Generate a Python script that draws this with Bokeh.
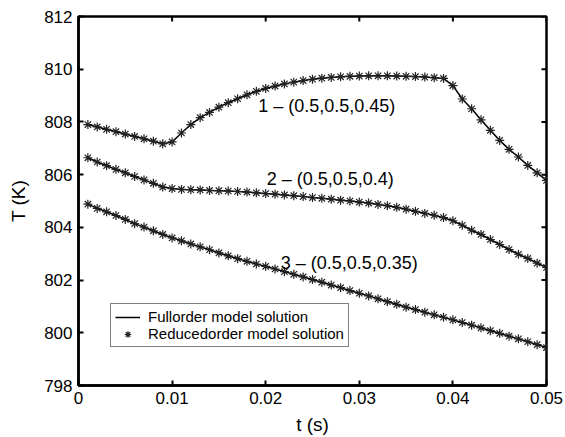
import math
from bokeh.plotting import figure
from bokeh.models import (Range1d, FixedTicker, Legend, LegendItem, Label)
from bokeh.embed import file_html
from bokeh.resources import INLINE

# ---- data ----
t = [0.001, 0.002, 0.003, 0.004, 0.005, 0.006, 0.007, 0.008, 0.009, 0.010,
     0.011, 0.012, 0.013, 0.014, 0.015, 0.016, 0.017, 0.018, 0.019, 0.020,
     0.021, 0.022, 0.023, 0.024, 0.025, 0.026, 0.027, 0.028, 0.029, 0.030,
     0.031, 0.032, 0.033, 0.034, 0.035, 0.036, 0.037, 0.038, 0.039, 0.040,
     0.041, 0.042, 0.043, 0.044, 0.045, 0.046, 0.047, 0.048, 0.049, 0.050]

T1 = [807.90, 807.81, 807.72, 807.63, 807.54, 807.45, 807.36, 807.27, 807.17, 807.24,
      807.58, 807.90, 808.16, 808.36, 808.56, 808.73, 808.88, 809.03, 809.16, 809.27,
      809.36, 809.44, 809.51, 809.57, 809.62, 809.66, 809.69, 809.71, 809.73, 809.74,
      809.75, 809.75, 809.75, 809.74, 809.73, 809.72, 809.70, 809.68, 809.65, 809.38,
      808.87, 808.50, 808.08, 807.68, 807.30, 806.96, 806.67, 806.35, 806.07, 805.78]

T2 = [806.64, 806.48, 806.34, 806.20, 806.07, 805.93, 805.80, 805.67, 805.53, 805.47,
      805.44, 805.43, 805.42, 805.40, 805.39, 805.38, 805.36, 805.34, 805.31, 805.28,
      805.26, 805.23, 805.20, 805.17, 805.13, 805.10, 805.07, 805.03, 805.00, 804.96,
      804.92, 804.87, 804.82, 804.76, 804.69, 804.61, 804.53, 804.46, 804.37, 804.25,
      804.08, 803.89, 803.73, 803.54, 803.35, 803.16, 802.98, 802.82, 802.64, 802.48]

T3 = [804.88, 804.72, 804.59, 804.45, 804.30, 804.14, 804.01, 803.87, 803.73, 803.60,
      803.49, 803.37, 803.26, 803.15, 803.03, 802.92, 802.81, 802.71, 802.61, 802.52,
      802.42, 802.32, 802.22, 802.12, 802.02, 801.92, 801.81, 801.71, 801.60, 801.50,
      801.40, 801.29, 801.18, 801.08, 800.97, 800.88, 800.78, 800.68, 800.59, 800.49,
      800.39, 800.29, 800.19, 800.08, 799.98, 799.87, 799.77, 799.66, 799.55, 799.44]

curve_labels = ["1 \u2013 (0.5,0.5,0.45)", "2 \u2013 (0.5,0.5,0.4)", "3 \u2013 (0.5,0.5,0.35)"]
label_t = [0.0192, 0.0201, 0.0216]
label_T = [808.62, 805.82, 802.65]

x_ticks = [0, 0.01, 0.02, 0.03, 0.04, 0.05]
y_ticks = [798, 800, 802, 804, 806, 808, 810, 812]

FONT = "Liberation Sans"
X0, X1, Y0, Y1 = 0, 0.05, 798, 812

p = figure(width=565, height=437, output_backend="svg", toolbar_location=None,
           x_range=Range1d(X0, X1), y_range=Range1d(Y0, Y1),
           min_border_left=78, min_border_right=19, min_border_top=16, min_border_bottom=51,
           x_axis_label="t (s)", y_axis_label="T (K)")
p.grid.visible = False
p.outline_line_color = "black"
p.outline_line_width = 2.5
p.background_fill_color = "white"
p.border_fill_color = "white"

for ax, ticks in ((p.xaxis[0], x_ticks), (p.yaxis[0], y_ticks)):
    ax.ticker = FixedTicker(ticks=ticks)
    ax.axis_line_width = 2.5
    ax.axis_line_color = "black"
    ax.major_tick_in = 5
    ax.major_tick_out = 0
    ax.major_tick_line_width = 2
    ax.minor_tick_line_color = None
    ax.major_label_text_font = FONT
    ax.major_label_text_color = "black"
    ax.major_label_text_font_size = "17px"
    ax.major_label_standoff = 6
    ax.axis_label_text_font = FONT
    ax.axis_label_text_font_size = "19px"
    ax.axis_label_text_font_style = "normal"
    ax.axis_label_text_color = "black"
p.xaxis[0].major_label_overrides = {0: "0"}
p.xaxis[0].axis_label_standoff = 7
p.yaxis[0].axis_label_standoff = 12

# mirrored inward ticks on top and right edges (clipped to the frame)
p.scatter(x_ticks, [Y1] * len(x_ticks), marker="dash", size=10, angle=math.pi / 2,
          line_color="black", line_width=2)
p.scatter([X1] * len(y_ticks), y_ticks, marker="dash", size=10, angle=0,
          line_color="black", line_width=2)

line_r = None
star_r = None
for T in (T1, T2, T3):
    lr = p.line(t, T, line_color="black", line_width=1.5)
    sr = p.scatter(t, T, marker="asterisk", size=9, line_color="#222222", line_width=1.2)
    if line_r is None:
        line_r, star_r = lr, sr

for txt, lx, ly in zip(curve_labels, label_t, label_T):
    p.add_layout(Label(x=lx, y=ly, text=txt, text_font=FONT, text_font_size="18px",
                       text_baseline="middle", text_align="left", text_color="black"))

legend = Legend(items=[LegendItem(label="Fullorder model solution", renderers=[line_r]),
                       LegendItem(label="Reducedorder model solution", renderers=[star_r])],
                location=(32, 38), orientation="vertical")
legend.label_text_font = FONT
legend.label_text_font_size = "15px"
legend.label_text_color = "black"
legend.border_line_color = "black"
legend.border_line_width = 1
legend.background_fill_alpha = 1
legend.padding = 4
legend.spacing = 0
legend.margin = 0
legend.glyph_width = 25
legend.glyph_height = 16
legend.label_height = 16
legend.label_standoff = 8
p.add_layout(legend, "center")

open("out.html", "w").write(file_html(p, INLINE))
